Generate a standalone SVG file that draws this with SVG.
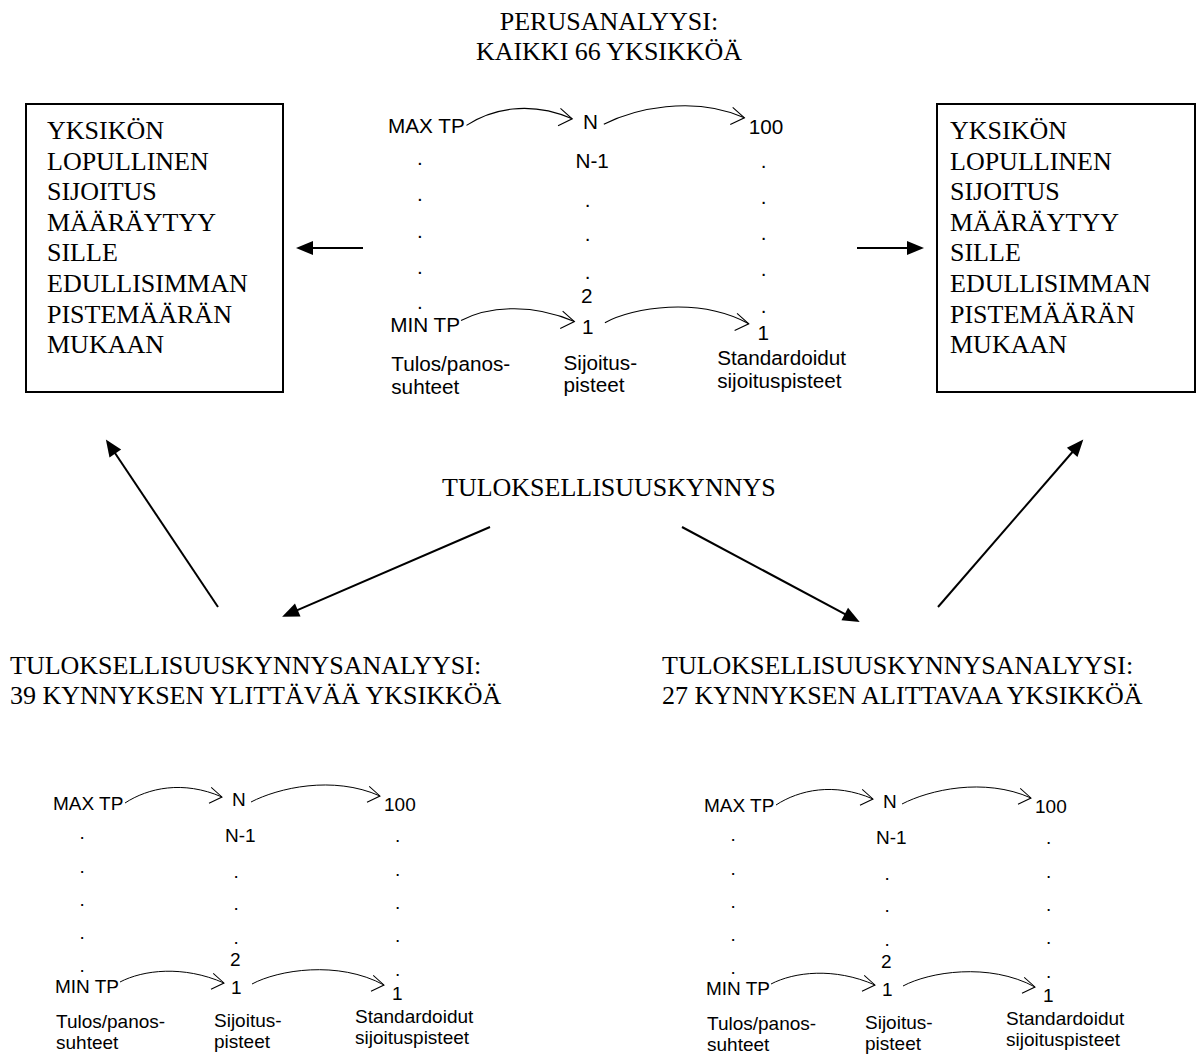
<svg xmlns="http://www.w3.org/2000/svg" width="1198" height="1055" viewBox="0 0 1198 1055">
<style>
.serif{font-family:"Liberation Serif","Times New Roman",serif;font-size:26px;fill:#000}
.sans{font-family:"Liberation Sans",Arial,sans-serif;font-size:19px;fill:#000}
.box{fill:#fff;stroke:#000;stroke-width:2}
.big{stroke:#000;stroke-width:2;fill:none;marker-end:url(#solid)}
.arc{stroke:#000;stroke-width:1;fill:none;marker-end:url(#open)}
</style>
<defs>
<marker id="solid" markerUnits="userSpaceOnUse" viewBox="-16 -8 20 16" refX="-2" refY="0" markerWidth="20" markerHeight="16" orient="auto">
<path d="M2,0 L-15,-7 L-15,7 Z" fill="#000"/>
</marker>
<marker id="open" markerUnits="userSpaceOnUse" viewBox="-14 -9 16 18" refX="0" refY="0" markerWidth="16" markerHeight="18" orient="8">
<path d="M-12,-8 L0,0 L-12,8" fill="none" stroke="#000" stroke-width="1"/>
</marker>
</defs>
<rect width="1198" height="1055" fill="#fff"/>

<g id="title-top">
<text class="serif" x="609" y="30" text-anchor="middle">PERUSANALYYSI:</text>
<text class="serif" x="609" y="60" text-anchor="middle">KAIKKI 66 YKSIKKÖÄ</text>
</g>

<g id="box-left">
<rect class="box" x="26" y="104" width="257" height="288"/>
<text class="serif" x="47" y="139">YKSIKÖN</text>
<text class="serif" x="47" y="169.6">LOPULLINEN</text>
<text class="serif" x="47" y="200.2">SIJOITUS</text>
<text class="serif" x="47" y="230.8">MÄÄRÄYTYY</text>
<text class="serif" x="47" y="261.4">SILLE</text>
<text class="serif" x="47" y="292">EDULLISIMMAN</text>
<text class="serif" x="47" y="322.6">PISTEMÄÄRÄN</text>
<text class="serif" x="47" y="353.2">MUKAAN</text>
</g>

<g id="box-right">
<rect class="box" x="937" y="104" width="258" height="288"/>
<text class="serif" x="950" y="139">YKSIKÖN</text>
<text class="serif" x="950" y="169.6">LOPULLINEN</text>
<text class="serif" x="950" y="200.2">SIJOITUS</text>
<text class="serif" x="950" y="230.8">MÄÄRÄYTYY</text>
<text class="serif" x="950" y="261.4">SILLE</text>
<text class="serif" x="950" y="292">EDULLISIMMAN</text>
<text class="serif" x="950" y="322.6">PISTEMÄÄRÄN</text>
<text class="serif" x="950" y="353.2">MUKAAN</text>
</g>

<g id="panel-top" transform="translate(388,133) scale(1.09)">
<path class="arc" d="M72,-7 C95,-22 130,-30 169,-13"/>
<path class="arc" d="M198,-8 C225,-22 280,-35 327,-14"/>
<path class="arc" d="M67,172 C90,160 130,155 171,173"/>
<path class="arc" d="M199,174 C225,160 285,150 331,175"/>
<text class="sans" x="0" y="0">MAX TP</text>
<text class="sans" x="179" y="-4">N</text>
<text class="sans" x="331" y="1">100</text>
<text class="sans" x="172" y="32">N-1</text>
<text class="sans" x="26.5" y="29">.</text>
<text class="sans" x="26.5" y="62.5">.</text>
<text class="sans" x="26.5" y="96">.</text>
<text class="sans" x="26.5" y="129">.</text>
<text class="sans" x="26.5" y="161.5">.</text>
<text class="sans" x="180.5" y="67.5">.</text>
<text class="sans" x="180.5" y="99.5">.</text>
<text class="sans" x="180.5" y="134">.</text>
<text class="sans" x="177" y="156">2</text>
<text class="sans" x="178" y="184">1</text>
<text class="sans" x="342" y="32">.</text>
<text class="sans" x="342" y="65.5">.</text>
<text class="sans" x="342" y="98.5">.</text>
<text class="sans" x="342" y="131.5">.</text>
<text class="sans" x="342" y="165.5">.</text>
<text class="sans" x="339" y="190">1</text>
<text class="sans" x="2" y="183">MIN TP</text>
<text class="sans" x="3" y="218">Tulos/panos-</text>
<text class="sans" x="3" y="239">suhteet</text>
<text class="sans" x="161" y="217">Sijoitus-</text>
<text class="sans" x="161" y="238">pisteet</text>
<text class="sans" x="302" y="213">Standardoidut</text>
<text class="sans" x="302" y="234">sijoituspisteet</text>
</g>

<g id="threshold">
<text class="serif" x="442" y="496">TULOKSELLISUUSKYNNYS</text>
</g>

<g id="title-bottom-left">
<text class="serif" x="10" y="674">TULOKSELLISUUSKYNNYSANALYYSI:</text>
<text class="serif" x="10" y="704">39 KYNNYKSEN YLITTÄVÄÄ YKSIKKÖÄ</text>
</g>

<g id="title-bottom-right">
<text class="serif" x="662" y="674">TULOKSELLISUUSKYNNYSANALYYSI:</text>
<text class="serif" x="662" y="704">27 KYNNYKSEN ALITTAVAA YKSIKKÖÄ</text>
</g>

<g id="panel-bottom-left" transform="translate(53,810)">
<path class="arc" d="M72,-7 C95,-22 130,-30 169,-13"/>
<path class="arc" d="M198,-8 C225,-22 280,-35 327,-14"/>
<path class="arc" d="M67,172 C90,160 130,155 171,173"/>
<path class="arc" d="M199,174 C225,160 285,150 331,175"/>
<text class="sans" x="0" y="0">MAX TP</text>
<text class="sans" x="179" y="-4">N</text>
<text class="sans" x="331" y="1">100</text>
<text class="sans" x="172" y="32">N-1</text>
<text class="sans" x="26.5" y="29">.</text>
<text class="sans" x="26.5" y="62.5">.</text>
<text class="sans" x="26.5" y="96">.</text>
<text class="sans" x="26.5" y="129">.</text>
<text class="sans" x="26.5" y="161.5">.</text>
<text class="sans" x="180.5" y="67.5">.</text>
<text class="sans" x="180.5" y="99.5">.</text>
<text class="sans" x="180.5" y="134">.</text>
<text class="sans" x="177" y="156">2</text>
<text class="sans" x="178" y="184">1</text>
<text class="sans" x="342" y="32">.</text>
<text class="sans" x="342" y="65.5">.</text>
<text class="sans" x="342" y="98.5">.</text>
<text class="sans" x="342" y="131.5">.</text>
<text class="sans" x="342" y="165.5">.</text>
<text class="sans" x="339" y="190">1</text>
<text class="sans" x="2" y="183">MIN TP</text>
<text class="sans" x="3" y="218">Tulos/panos-</text>
<text class="sans" x="3" y="239">suhteet</text>
<text class="sans" x="161" y="217">Sijoitus-</text>
<text class="sans" x="161" y="238">pisteet</text>
<text class="sans" x="302" y="213">Standardoidut</text>
<text class="sans" x="302" y="234">sijoituspisteet</text>
</g>

<g id="panel-bottom-right" transform="translate(704,812)">
<path class="arc" d="M72,-7 C95,-22 130,-30 169,-13"/>
<path class="arc" d="M198,-8 C225,-22 280,-35 327,-14"/>
<path class="arc" d="M67,172 C90,160 130,155 171,173"/>
<path class="arc" d="M199,174 C225,160 285,150 331,175"/>
<text class="sans" x="0" y="0">MAX TP</text>
<text class="sans" x="179" y="-4">N</text>
<text class="sans" x="331" y="1">100</text>
<text class="sans" x="172" y="32">N-1</text>
<text class="sans" x="26.5" y="29">.</text>
<text class="sans" x="26.5" y="62.5">.</text>
<text class="sans" x="26.5" y="96">.</text>
<text class="sans" x="26.5" y="129">.</text>
<text class="sans" x="26.5" y="161.5">.</text>
<text class="sans" x="180.5" y="67.5">.</text>
<text class="sans" x="180.5" y="99.5">.</text>
<text class="sans" x="180.5" y="134">.</text>
<text class="sans" x="177" y="156">2</text>
<text class="sans" x="178" y="184">1</text>
<text class="sans" x="342" y="32">.</text>
<text class="sans" x="342" y="65.5">.</text>
<text class="sans" x="342" y="98.5">.</text>
<text class="sans" x="342" y="131.5">.</text>
<text class="sans" x="342" y="165.5">.</text>
<text class="sans" x="339" y="190">1</text>
<text class="sans" x="2" y="183">MIN TP</text>
<text class="sans" x="3" y="218">Tulos/panos-</text>
<text class="sans" x="3" y="239">suhteet</text>
<text class="sans" x="161" y="217">Sijoitus-</text>
<text class="sans" x="161" y="238">pisteet</text>
<text class="sans" x="302" y="213">Standardoidut</text>
<text class="sans" x="302" y="234">sijoituspisteet</text>
</g>

<g id="connectors">
<line class="big" x1="363" y1="248" x2="300" y2="248"/>
<line class="big" x1="857" y1="248" x2="920" y2="248"/>
<line class="big" x1="218" y1="607" x2="108.1" y2="442.7"/>
<line class="big" x1="938" y1="607" x2="1080.7" y2="442.5"/>
<line class="big" x1="490" y1="527" x2="285.8" y2="615.2"/>
<line class="big" x1="682" y1="527" x2="856.2" y2="620.1"/>
</g>
</svg>
